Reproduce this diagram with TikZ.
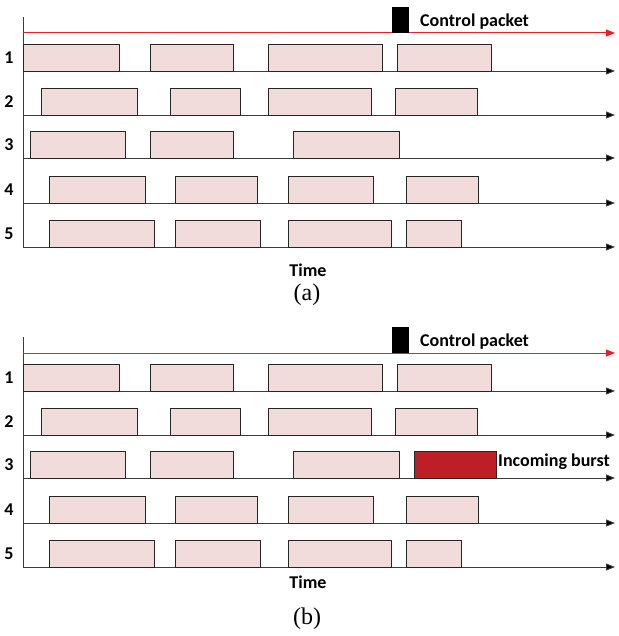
\documentclass[tikz,border=0pt]{standalone}
\usepackage{fontspec}
\setmainfont{Liberation Serif}
\newfontfamily\lblfont{Carlito}
\usetikzlibrary{arrows.meta}
\definecolor{burstfill}{RGB}{242,220,219}
\definecolor{hotfill}{RGB}{190,30,38}
\definecolor{ctlred}{RGB}{235,30,35}
\definecolor{axisgray}{RGB}{60,60,60}
\newcommand\mypanel[1]{%
  \coordinate (top#1) at (23,17);
  \coordinate (bot#1) at (23,247);
  \draw[vaxis] (top#1) -- (bot#1);
  \coordinate (rs#1) at (23,33);
  \coordinate (re#1) at (615,33);
  \draw[redaxis] (rs#1) -- (re#1);
  \node[ctrl] (cp#1) at (400.5,20) {};
  \node[lbl,anchor=west] (cpt#1) at (420,22) {Control packet};
  \foreach \r/\y/\lst in {1/71/{23/119,150/233,268/382,397/491},
                          2/115/{41/137,170/240,268/371,395/477},
                          3/158/{30/125,150/233,293/399},
                          4/203/{49/145,175/257,288/373,406/478},
                          5/247/{49/154,175/260,288/391,406/461}} {
    \coordinate (as#1\r) at (23,\y);
    \coordinate (ae#1\r) at (615,\y);
    \draw[axis] (as#1\r) -- (ae#1\r);
    \foreach \a/\b in \lst { \draw[burst] (\a,\y-27) rectangle (\b,\y); }
    \node[lbl] (lab#1\r) at (9,\y-13) {\r};
  }
}
\begin{document}
\begin{tikzpicture}[x=1pt,y=-1pt,
  burst/.style={draw=black!85, line width=0.8pt, fill=burstfill},
  hot/.style={draw=black!85, line width=0.8pt, fill=hotfill},
  axis/.style={draw=axisgray, line width=0.9pt, -{Triangle[length=9pt,width=7pt,fill=black]}},
  vaxis/.style={draw=axisgray, line width=0.9pt},
  redaxis/.style={draw=ctlred, line width=1pt, -{Triangle[length=9pt,width=7pt,fill=ctlred]}},
  ctrl/.style={fill=black, draw=none, minimum width=17pt, minimum height=26pt, inner sep=0pt},
  lbl/.style={font=\lblfont\bfseries\fontsize{18}{20}\selectfont, inner sep=0pt},
  captext/.style={font=\fontsize{24}{26}\selectfont, inner sep=0pt}]
\useasboundingbox (0,0) rectangle (618,636);
\mypanel{a}
\node[lbl] (timea) at (308,270) {Time};
\node[captext] (capa) at (307,295) {(a)};
\begin{scope}[shift={(0,320)}]
  \mypanel{b}
  \draw[hot] (414,131) rectangle (496,158);
  \node[lbl,anchor=west] (inc) at (498,142) {Incoming burst};
\end{scope}
\node[lbl] (timeb) at (308,582) {Time};
\node[captext] (capb) at (307,619) {(b)};
\end{tikzpicture}
\end{document}
